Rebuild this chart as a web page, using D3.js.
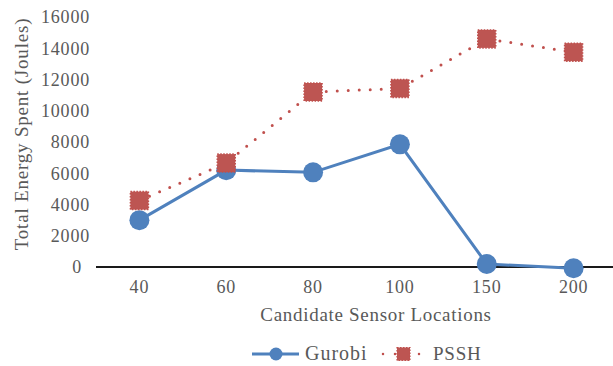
<!DOCTYPE html>
<html>
<head>
<meta charset="utf-8">
<script src="https://cdn.jsdelivr.net/npm/d3@7"></script>
<style>
  html, body { margin: 0; padding: 0; background: #fff; }
  svg { display: block; }
</style>
</head>
<body>
<svg id="chart" width="613" height="366"></svg>
<script>
// Sensor-location counts and total energy (Joules) for each method
const categories = ["40", "60", "80", "100", "150", "200"];
const gurobiValues = [3000, 6200, 6060, 7850, 190, -80];
const psshValues = [4250, 6650, 11200, 11430, 14600, 13750];
const yTicks = [0, 2000, 4000, 6000, 8000, 10000, 12000, 14000, 16000];
const seriesNames = ["Gurobi", "PSSH"];

const blue = "#4f81bd";
const red = "#c0504d";
const grey = "#595959";
const serif = '"Liberation Serif"';

const svg = d3.select("#chart");
const margin = { left: 96, right: -4, top: 17, bottom: 99 };
const W = 613, H = 366;

const x = d3.scaleBand()
  .domain(categories)
  .range([margin.left, W - margin.right])
  .paddingInner(0).paddingOuter(0);

const y = d3.scaleLinear()
  .domain([0, 16000])
  .range([H - margin.bottom, margin.top]);

const cx = c => x(c) + x.bandwidth() / 2;

function styleText(sel, size, spacing) {
  sel.style("font-family", serif)
    .style("font-size", size + "px")
    .style("letter-spacing", spacing + "px")
    .attr("fill", grey);
}

// y-axis labels (no axis line)
const yAxis = d3.axisLeft(y).tickValues(yTicks).tickSize(0).tickPadding(0)
  .tickFormat(d3.format("d"));
const gy = svg.append("g").attr("transform", `translate(90,0)`).call(yAxis);
gy.attr("font-family", null);
gy.select(".domain").remove();
gy.selectAll("text")
  .call(styleText, 18, 0.8)
  .attr("dx", d => d === 0 ? -8 : 0);

// x-axis labels
const xAxis = d3.axisBottom(x).tickSize(0).tickPadding(0);
const gx = svg.append("g").attr("transform", `translate(0,${y(0)})`).call(xAxis);
gx.attr("font-family", null);
gx.select(".domain").remove();
gx.selectAll("text")
  .call(styleText, 18, 0.8)
  .attr("y", 26)
  .attr("dy", 0);

// baseline at zero
svg.append("line")
  .attr("x1", margin.left).attr("x2", W)
  .attr("y1", y(0)).attr("y2", y(0))
  .attr("stroke", "#1a1a1a").attr("stroke-width", 2.2);

// axis titles
svg.append("text")
  .attr("transform", `translate(28,134) rotate(-90)`)
  .attr("text-anchor", "middle")
  .call(styleText, 19, 0.8)
  .text("Total Energy Spent (Joules)");

svg.append("text")
  .attr("x", 376)
  .attr("y", 321)
  .attr("text-anchor", "middle")
  .call(styleText, 19, 0.7)
  .text("Candidate Sensor Locations");

const line = d3.line().x(d => cx(d.c)).y(d => y(d.v));
const gData = categories.map((c, i) => ({ c, v: gurobiValues[i] }));
const pData = categories.map((c, i) => ({ c, v: psshValues[i] }));

// PSSH: round-dot line with squares
svg.append("path")
  .datum(pData)
  .attr("d", line)
  .attr("fill", "none")
  .attr("stroke", red)
  .attr("stroke-width", 3)
  .attr("stroke-linecap", "round")
  .attr("stroke-dasharray", "0 11");

// Gurobi: solid line with circles
svg.append("path")
  .datum(gData)
  .attr("d", line)
  .attr("fill", "none")
  .attr("stroke", blue)
  .attr("stroke-width", 3);

svg.selectAll("circle.g")
  .data(gData).enter().append("circle")
  .attr("class", "g")
  .attr("cx", d => cx(d.c)).attr("cy", d => y(d.v))
  .attr("r", 10)
  .attr("fill", blue);

const sq = 18;
svg.selectAll("rect.p")
  .data(pData).enter().append("rect")
  .attr("class", "p")
  .attr("x", d => cx(d.c) - sq / 2).attr("y", d => y(d.v) - sq / 2)
  .attr("width", sq).attr("height", sq)
  .attr("fill", "#bd5552")
  .attr("stroke", "#c0504d")
  .attr("stroke-width", 1.5)
  .attr("stroke-dasharray", "1.5 1.5");

// legend
const lg = svg.append("g");
const ly = 354;
lg.append("line").attr("x1", 252).attr("x2", 299).attr("y1", ly).attr("y2", ly)
  .attr("stroke", blue).attr("stroke-width", 3);
lg.append("circle").attr("cx", 276).attr("cy", ly).attr("r", 6.5).attr("fill", blue);
lg.append("text").attr("x", 305).attr("y", ly + 6)
  .call(styleText, 20, 1).text(seriesNames[0]);

lg.append("line").attr("x1", 383).attr("x2", 424).attr("y1", ly).attr("y2", ly)
  .attr("stroke", red).attr("stroke-width", 2.5).attr("stroke-linecap", "round")
  .attr("stroke-dasharray", "0 12");
lg.append("rect").attr("x", 397).attr("y", ly - 6.5).attr("width", 13).attr("height", 13)
  .attr("fill", "#bd5552").attr("stroke", red).attr("stroke-width", 1.2)
  .attr("stroke-dasharray", "1.5 1.5");
lg.append("text").attr("x", 433).attr("y", ly + 6)
  .call(styleText, 19, 0.8).text(seriesNames[1]);
</script>
</body>
</html>
